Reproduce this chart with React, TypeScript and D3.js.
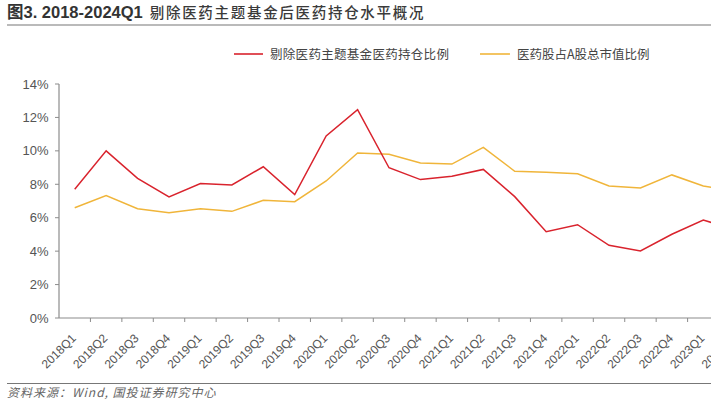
import React from "react";
import * as d3 from "d3";

const categories = [
  "2018Q1","2018Q2","2018Q3","2018Q4",
  "2019Q1","2019Q2","2019Q3","2019Q4",
  "2020Q1","2020Q2","2020Q3","2020Q4",
  "2021Q1","2021Q2","2021Q3","2021Q4",
  "2022Q1","2022Q2","2022Q3","2022Q4",
  "2023Q1","2023Q2","2023Q3","2023Q4","2024Q1",
];

// 剔除医药主题基金医药持仓比例 (%), visible portion
const redValues = [
  7.7, 10.0, 8.35, 7.25,
  8.04, 7.96, 9.05, 7.38,
  10.89, 12.46, 8.99, 8.28,
  8.48, 8.89, 7.26, 5.16,
  5.58, 4.35, 4.01, 5.01,
  5.86, 5.3,
];

// 医药股占A股总市值比例 (%), visible portion
const yellowValues = [
  6.6, 7.32, 6.54, 6.3,
  6.54, 6.38, 7.04, 6.96,
  8.2, 9.87, 9.79, 9.27,
  9.21, 10.21, 8.78, 8.72,
  8.63, 7.9, 7.78, 8.56,
  7.9, 7.6,
];

const yTicks = [0, 2, 4, 6, 8, 10, 12, 14];

const seriesNames = ["剔除医药主题基金医药持仓比例", "医药股占A股总市值比例"];
const titleLead = "图3. 2018-2024Q1";
const titleRest = "剔除医药主题基金后医药持仓水平概况";
const sourceText = "资料来源：Wind, 国投证券研究中心";

const W = 711;
const H = 410;
const RED = "#D9232D";
const YELLOW = "#F0B53A";
const AXIS = "#8C8C8C";
const LATIN = "'Liberation Sans', Arial, 'Noto Sans CJK SC', sans-serif";
const CJK = "'Noto Sans CJK SC', 'Liberation Sans', sans-serif";

export default function App() {
  const left = 59;
  const step = 31.43;
  const x = d3
    .scaleBand<string>()
    .domain(categories)
    .range([left, left + step * categories.length])
    .padding(0);
  const y = d3.scaleLinear().domain([0, 14]).range([318, 84]);
  const bw = x.bandwidth();
  const cx = (i: number) => (x(categories[i]) as number) + bw / 2;

  const line = d3
    .line<number>()
    .x((_, i) => cx(i))
    .y((d) => y(d));

  const x0 = y(0);

  return (
    <div style={{ position: "absolute", left: 0, top: 0 }}>
      <svg width={W} height={H} style={{ display: "block", background: "#fff", overflow: "hidden" }}>
        {/* title */}
        <text x={7} y={18} fill="#333">
          <tspan fontFamily={LATIN} fontWeight="bold" fontSize={16.5}>
            {titleLead}
          </tspan>
          <tspan dx={7} fontFamily={CJK} fontWeight={500} fontSize={14.5} letterSpacing={1.7} fill="#3a3a3a">
            {titleRest}
          </tspan>
        </text>
        <line x1={7} x2={W} y1={25} y2={25} stroke="#777" strokeWidth={1.2} />

        {/* legend */}
        <line x1={234} x2={263} y1={54} y2={54} stroke={RED} strokeWidth={1.6} />
        <text x={270} y={58.5} fontFamily={CJK} fontSize={12.5} fill="#444" letterSpacing={0.3}>
          {seriesNames[0]}
        </text>
        <line x1={480} x2={510} y1={54} y2={54} stroke={YELLOW} strokeWidth={1.6} />
        <text x={517} y={58.5} fontFamily={CJK} fontSize={12.5} fill="#444">
          {seriesNames[1]}
        </text>

        {/* y axis */}
        <line x1={left} x2={left} y1={y(14)} y2={x0} stroke={AXIS} strokeWidth={1.2} />
        {yTicks.map((t) => (
          <g key={t}>
            <line x1={left - 4} x2={left} y1={y(t)} y2={y(t)} stroke={AXIS} strokeWidth={1} />
            <text
              x={48.5}
              y={y(t) + 4.5}
              textAnchor="end"
              fontFamily={LATIN}
              fontSize={13}
              fill="#555"
            >
              {t + "%"}
            </text>
          </g>
        ))}

        {/* x axis */}
        <line x1={left} x2={W} y1={x0} y2={x0} stroke={AXIS} strokeWidth={1.2} />
        {categories.map((c, i) => (
          <g key={c}>
            <line
              x1={(x(c) as number) + bw}
              x2={(x(c) as number) + bw}
              y1={x0}
              y2={x0 + 4}
              stroke={AXIS}
              strokeWidth={1}
            />
            <text
              transform={`translate(${cx(i) + 2},${x0 + 21}) rotate(-45)`}
              textAnchor="end"
              fontFamily={LATIN}
              fontSize={12}
              fill="#555"
            >
              {c}
            </text>
          </g>
        ))}

        {/* lines */}
        <path d={line(yellowValues) || ""} fill="none" stroke={YELLOW} strokeWidth={1.5} />
        <path d={line(redValues) || ""} fill="none" stroke={RED} strokeWidth={1.5} />

        {/* source */}
        <line x1={7} x2={W} y1={383.5} y2={383.5} stroke="#777" strokeWidth={1} />
        <text
          x={7}
          y={397}
          fontFamily={CJK}
          fontStyle="italic"
          fontSize={12}
          letterSpacing={1.0}
          fill="#666"
        >
          {sourceText}
        </text>
      </svg>
    </div>
  );
}
